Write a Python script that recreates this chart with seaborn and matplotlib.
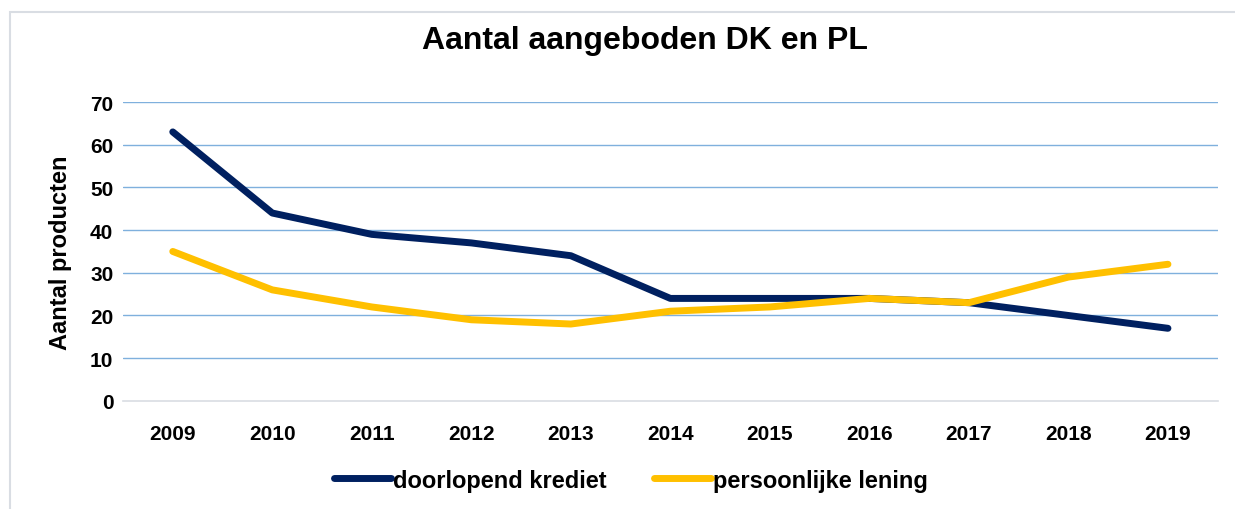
import pandas as pd
import matplotlib.pyplot as plt
import seaborn as sns
from matplotlib.patches import Rectangle

# data
jaren = [2009, 2010, 2011, 2012, 2013, 2014, 2015, 2016, 2017, 2018, 2019]
doorlopend_krediet = [63, 44, 39, 37, 34, 24, 24, 24, 23, 20, 17]
persoonlijke_lening = [35, 26, 22, 19, 18, 21, 22, 24, 23, 29, 32]

df = pd.DataFrame({
    'jaar': jaren * 2,
    'aantal': doorlopend_krediet + persoonlijke_lening,
    'product': ['doorlopend krediet'] * len(jaren) + ['persoonlijke lening'] * len(jaren),
})

sns.set_style('white')
plt.rcParams['font.family'] = ['Liberation Sans', 'DejaVu Sans']
plt.rcParams['text.color'] = 'black'
plt.rcParams['xtick.color'] = 'black'
plt.rcParams['ytick.color'] = 'black'
plt.rcParams['axes.labelcolor'] = 'black'

fig = plt.figure(figsize=(12.35, 5.1), dpi=100)
ax = fig.add_axes([0.0996, 0.212, 0.8864, 0.586])

# grijze kader rond de grafiek
fig.patches.append(Rectangle((10 / 1235, -0.1), 1.2, 1.1 - 13 / 510, transform=fig.transFigure,
                             fill=False, edgecolor='#d9dde3', linewidth=1.5, zorder=0))

sns.lineplot(data=df, x='jaar', y='aantal', hue='product',
             palette=['#002060', '#FFC000'], linewidth=5, ax=ax,
             solid_capstyle='round', legend=True)

ax.set_xlim(2008.5, 2019.5)
ax.set_ylim(0, 70)
ax.set_yticks(range(0, 71, 10))
ax.set_xticks(jaren)
ax.set_xticklabels([str(j) for j in jaren], fontsize=15, fontweight='bold')
ax.set_xticks([j + 0.5 for j in range(2008, 2020)], minor=True)
ax.tick_params(axis='x', which='major', length=0, pad=17)
ax.tick_params(axis='x', which='minor', length=6, color='#d9dde3', width=1.2, direction='out')
ax.tick_params(axis='y', length=0, pad=7, labelsize=15)
for lbl in ax.get_yticklabels():
    lbl.set_fontweight('bold')

for v in range(10, 71, 10):
    ax.axhline(v, color='#7fb0dd', linewidth=1.0, zorder=0)

for s in ['top', 'right', 'left']:
    ax.spines[s].set_visible(False)
ax.spines['bottom'].set_color('#d9dde3')
ax.spines['bottom'].set_linewidth(1.2)

ax.set_xlabel('')
ax.set_ylabel('Aantal producten', fontsize=17, fontweight='bold', labelpad=13)

fig.text(0.522, 0.92, 'Aantal aangeboden DK en PL',
         ha='center', va='center', fontsize=23, fontweight='bold')

leg = ax.legend(loc='center', bbox_to_anchor=(0.464, -0.265), ncol=2, frameon=False,
                handlelength=2.4, handletextpad=0.1, columnspacing=2.0,
                prop={'weight': 'bold', 'size': 17})
for h in leg.get_lines():
    h.set_linewidth(5)
    h.set_solid_capstyle('round')

fig.savefig('out.png', dpi=100)
